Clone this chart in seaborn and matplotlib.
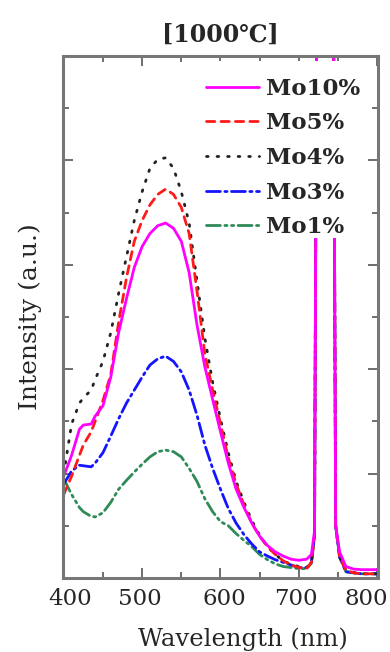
import numpy as np
import pandas as pd
import matplotlib
matplotlib.use("Agg")
import matplotlib.pyplot as plt
import matplotlib.transforms as mtransforms
from matplotlib.ticker import MultipleLocator, NullFormatter
import seaborn as sns

# ---- data ----
wavelength = [400, 410, 420, 425, 435, 440, 450, 460, 470, 480, 490, 500, 510, 520,
              530, 540, 550, 560, 570, 580, 590, 600, 610, 620, 630, 640, 650, 660,
              670, 680, 690, 700, 710, 716, 720, 723, 744, 747, 752, 760, 770, 780,
              790, 800]

mo10 = [1.95, 2.35, 2.85, 2.93, 2.95, 3.1, 3.3, 3.85, 4.7, 5.35, 5.95, 6.35, 6.6, 6.75,
        6.8, 6.7, 6.45, 5.85, 4.85, 4.05, 3.42, 2.8, 2.2, 1.7, 1.35, 1.05, 0.8, 0.62,
        0.5, 0.42, 0.36, 0.34, 0.36, 0.45, 0.9, 12, 12, 1.0, 0.5, 0.22, 0.17, 0.16,
        0.16, 0.16]
mo5 = [1.6, 1.95, 2.35, 2.55, 2.8, 3.0, 3.4, 3.9, 4.9, 5.75, 6.45, 6.85, 7.15, 7.35,
       7.45, 7.35, 7.1, 6.6, 5.5, 4.3, 3.6, 2.95, 2.3, 1.8, 1.4, 1.05, 0.8, 0.6,
       0.45, 0.33, 0.25, 0.2, 0.18, 0.3, 0.8, 12, 12, 1.0, 0.4, 0.15, 0.1, 0.08,
       0.08, 0.08]
mo4 = [2.0, 2.95, 3.35, 3.45, 3.6, 3.8, 4.15, 4.7, 5.45, 6.15, 6.85, 7.4, 7.85, 8.02,
       8.05, 7.85, 7.4, 6.8, 5.7, 4.6, 3.75, 3.05, 2.4, 1.85, 1.45, 1.1, 0.82, 0.6,
       0.45, 0.33, 0.26, 0.22, 0.2, 0.3, 0.8, 12, 12, 1.0, 0.4, 0.15, 0.1, 0.08,
       0.08, 0.08]
mo3 = [1.8, 2.05, 2.16, 2.15, 2.13, 2.2, 2.4, 2.72, 3.05, 3.35, 3.6, 3.85, 4.08, 4.2,
       4.25, 4.15, 3.95, 3.6, 3.12, 2.55, 2.1, 1.7, 1.33, 1.05, 0.83, 0.65, 0.5, 0.42,
       0.35, 0.3, 0.25, 0.2, 0.2, 0.3, 0.8, 12, 12, 1.0, 0.4, 0.12, 0.1, 0.08,
       0.08, 0.08]
mo1 = [1.9, 1.6, 1.35, 1.27, 1.18, 1.17, 1.25, 1.45, 1.7, 1.87, 2.03, 2.18, 2.32, 2.42,
       2.45, 2.42, 2.32, 2.1, 1.85, 1.52, 1.27, 1.08, 1.0, 0.85, 0.72, 0.6, 0.45, 0.35,
       0.27, 0.22, 0.2, 0.18, 0.18, 0.28, 0.8, 12, 12, 1.0, 0.4, 0.12, 0.1, 0.08,
       0.08, 0.08]

labels = ["Mo10%", "Mo5%", "Mo4%", "Mo3%", "Mo1%"]
series = [mo10, mo5, mo4, mo3, mo1]
colors = ["#ff00ff", "#ff1a1a", "#222222", "#1414ff", "#2e8b57"]
styles = ["-", (0, (3, 2.2)), (0, (0.6, 3.2)), (0, (5, 1.6, 0.8, 1.6)),
          (0, (5, 1.6, 0.8, 1.6, 0.8, 1.6))]
title = "[1000\u2103]"
x_ticks = [400, 500, 600, 700, 800]

sns.set_theme(style="ticks")
plt.rcParams["font.family"] = ["DejaVu Serif"]

fig = plt.figure(figsize=(3.9, 6.52), dpi=100)
ax = fig.add_axes([0.1615, 0.1135, 0.8077, 0.8006])

handles = {}
for lab, vals, col, ls in reversed(list(zip(labels, series, colors, styles))):
    sns.lineplot(x=wavelength, y=vals, ax=ax, color=col, linestyle=ls, linewidth=2.0,
                 estimator=None, sort=False, legend=False, dash_capstyle="round")
    handles[lab] = ax.lines[-1]

ax.set_xlim(399, 801)
ax.set_ylim(0, 10)
ax.set_xticks(x_ticks)
ax.xaxis.set_minor_locator(MultipleLocator(50))
ax.yaxis.set_major_locator(MultipleLocator(2))
ax.yaxis.set_minor_locator(MultipleLocator(1))
ax.yaxis.set_major_formatter(NullFormatter())
ax.tick_params(which="both", direction="in", top=True, right=True, color="#555555",
               width=1.2)
ax.tick_params(which="major", length=7, labelsize=16.5, pad=7)
ax.tick_params(which="minor", length=4)
for sp in ax.spines.values():
    sp.set_color("#777777")
    sp.set_linewidth(2.2)

# small horizontal nudges of tick labels as in the reference
nudges = [6, -2, 4, -3, -11]
for lbl, dx in zip(ax.get_xticklabels(), nudges):
    lbl.set_transform(lbl.get_transform() +
                      mtransforms.ScaledTranslation(dx / 100, 0, fig.dpi_scale_trans))

ax.set_xlabel("Wavelength (nm)", fontsize=17.5)
ax.xaxis.set_label_coords(0.57, -0.095)
ax.set_ylabel("Intensity (a.u.)", fontsize=18, labelpad=8)

leg = ax.legend([handles[l] for l in labels], labels, loc="upper right",
                bbox_to_anchor=(0.943, 0.99), borderaxespad=0, frameon=True,
                facecolor="white", edgecolor="none", framealpha=1,
                prop={"family": "DejaVu Serif", "weight": "bold", "size": 16.5},
                title=" ", title_fontsize=3,
                handlelength=2.3, handletextpad=0.3, labelspacing=0.55, borderpad=0.0)
fig.text(0.566, 0.946, title, ha="center", va="center", fontsize=17, fontweight="bold")

fig.savefig("out.png", dpi=100, facecolor="white")
